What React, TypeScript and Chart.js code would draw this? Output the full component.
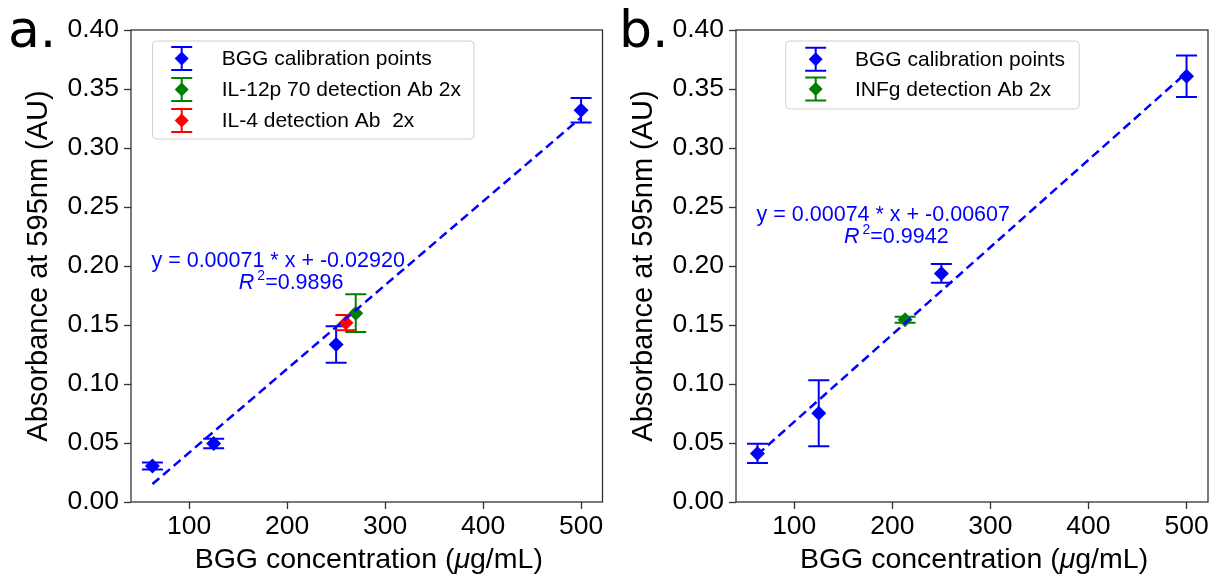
import React, { useEffect, useRef } from 'react';
import { Chart, registerables } from 'chart.js';

Chart.register(...registerables);

// ---------- shared axes ----------
const xTickValues = [100, 200, 300, 400, 500];
const yTickValues = [0, 0.05, 0.1, 0.15, 0.2, 0.25, 0.3, 0.35, 0.4];
const xAxisTitleParts = ['BGG concentration (', '\u03BC', 'g/mL)'];
const yAxisTitle = 'Absorbance at 595nm (AU)';

// ---------- panel a data ----------
const aCalX = [62.5, 125, 250, 500];
const aCalY = [0.0305, 0.0495, 0.1335, 0.332];
const aCalErr = [0.003, 0.004, 0.0155, 0.0104];
const aIl12X = [270];
const aIl12Y = [0.16];
const aIl12Err = [0.016];
const aIl4X = [260];
const aIl4Y = [0.152];
const aIl4Err = [0.0065];
const aFitX = [62.5, 500];
const aFitY = [0.0152, 0.3258];
const aLabels = ['BGG calibration points', 'IL-12p 70 detection Ab 2x', 'IL-4 detection Ab  2x'];
const aEquation = 'y = 0.00071 * x + -0.02920';
const aR2 = '=0.9896';

// ---------- panel b data ----------
const bCalX = [62.5, 125, 250, 500];
const bCalY = [0.0412, 0.0752, 0.1937, 0.3608];
const bCalErr = [0.0082, 0.028, 0.008, 0.0176];
const bInfX = [213];
const bInfY = [0.1545];
const bInfErr = [0.0025];
const bFitX = [62.5, 500];
const bFitY = [0.0402, 0.3639];
const bLabels = ['BGG calibration points', 'INFg detection Ab 2x'];
const bEquation = 'y = 0.00074 * x + -0.00607';
const bR2 = '=0.9942';

const BLUE = '#0000ff';
const GREEN = '#008000';
const RED = '#ff0000';
const FONT = '"Liberation Sans", Arial, sans-serif';

type PanelCfg = {
  letter: string;
  letterX: number;
  series: { label: string; xs: number[]; ys: number[]; errs: number[]; color: string; order: number }[];
  fitX: number[];
  fitY: number[];
  equation: string;
  r2: string;
  annoAt: { x: number; y: number };
  legend: { x: number; y: number; w: number; h: number; markerX: number; textX: number; rows: number[] };
  rightPad: number;
};

function drawErrMarker(ctx: CanvasRenderingContext2D, cx: number, top: number, bot: number, cy: number, color: string, cap: number, r: number) {
  ctx.save();
  ctx.strokeStyle = color;
  ctx.lineWidth = 2;
  ctx.beginPath();
  ctx.moveTo(cx, top);
  ctx.lineTo(cx, bot);
  ctx.moveTo(cx - cap, top);
  ctx.lineTo(cx + cap, top);
  ctx.moveTo(cx - cap, bot);
  ctx.lineTo(cx + cap, bot);
  ctx.stroke();
  if (r > 0) {
    ctx.fillStyle = color;
    ctx.beginPath();
    ctx.moveTo(cx - r, cy);
    ctx.lineTo(cx, cy - r);
    ctx.lineTo(cx + r, cy);
    ctx.lineTo(cx, cy + r);
    ctx.closePath();
    ctx.fill();
  }
  ctx.restore();
}

function Panel({ cfg, left, width }: { cfg: PanelCfg; left: number; width: number }) {
  const ref = useRef<HTMLCanvasElement | null>(null);
  useEffect(() => {
    if (!ref.current) return;
    const datasets: any[] = cfg.series.map((s) => ({
      label: s.label,
      data: s.xs.map((x, i) => ({ x, y: s.ys[i] })),
      errs: s.errs,
      backgroundColor: s.color,
      borderColor: s.color,
      borderWidth: 0,
      pointStyle: 'rectRot',
      pointRadius: 7.5,
      pointHoverRadius: 7.5,
      showLine: false,
      order: s.order,
    }));
    datasets.push({
      label: 'fit',
      data: cfg.fitX.map((x, i) => ({ x, y: cfg.fitY[i] })),
      borderColor: BLUE,
      borderWidth: 2.5,
      borderDash: [9, 5],
      pointRadius: 0,
      showLine: true,
      fill: false,
      order: 0,
    });

    const plugin = {
      id: 'extras',
      beforeDatasetDraw(chart: any, args: any) {
        const ds = chart.data.datasets[args.index];
        if (!ds.errs) return;
        const { ctx, scales } = chart;
        ds.data.forEach((p: any, i: number) => {
          const px = scales.x.getPixelForValue(p.x);
          const top = scales.y.getPixelForValue(p.y + ds.errs[i]);
          const bot = scales.y.getPixelForValue(p.y - ds.errs[i]);
          drawErrMarker(ctx, px, top, bot, 0, ds.borderColor, 10.5, 0);
        });
      },
      afterDraw(chart: any) {
        const { ctx, chartArea, scales } = chart;
        ctx.save();
        // frame
        ctx.strokeStyle = '#333';
        ctx.lineWidth = 1.3;
        ctx.strokeRect(chartArea.left, chartArea.top, chartArea.right - chartArea.left, chartArea.bottom - chartArea.top);

        // x axis title with italic mu
        {
          const fN = `28.5px ${FONT}`;
          const fI = `italic 28.5px ${FONT}`;
          ctx.font = fN;
          const w0 = ctx.measureText(xAxisTitleParts[0]).width;
          const w2 = ctx.measureText(xAxisTitleParts[2]).width;
          ctx.font = fI;
          const w1 = ctx.measureText(xAxisTitleParts[1]).width;
          const cx = (chartArea.left + chartArea.right) / 2 + 2;
          let sx = cx - (w0 + w1 + w2) / 2;
          const by = 568;
          ctx.fillStyle = '#000';
          ctx.textAlign = 'left';
          ctx.textBaseline = 'alphabetic';
          ctx.font = fN;
          ctx.fillText(xAxisTitleParts[0], sx, by);
          sx += w0;
          ctx.font = fI;
          ctx.fillText(xAxisTitleParts[1], sx, by);
          sx += w1;
          ctx.font = fN;
          ctx.fillText(xAxisTitleParts[2], sx, by);
        }

        // annotation
        const ax = scales.x.getPixelForValue(cfg.annoAt.x);
        const ay = scales.y.getPixelForValue(cfg.annoAt.y);
        ctx.fillStyle = BLUE;
        ctx.textBaseline = 'alphabetic';
        ctx.textAlign = 'center';
        ctx.font = `21.5px ${FONT}`;
        ctx.fillText(cfg.equation, ax, ay);
        const fR = `italic 21.5px ${FONT}`;
        const fS = `14px ${FONT}`;
        const fN2 = `21.5px ${FONT}`;
        ctx.font = fR;
        const wR = ctx.measureText('R').width;
        ctx.font = fS;
        const wS = ctx.measureText('2').width;
        ctx.font = fN2;
        const wN = ctx.measureText(cfg.r2).width;
        const gap = 3;
        const total = wR + gap + wS + wN;
        let sx = ax + 13 - total / 2;
        const by = ay + 22.5;
        ctx.textAlign = 'left';
        ctx.font = fR;
        ctx.fillText('R', sx, by);
        sx += wR + gap;
        ctx.font = fS;
        ctx.fillText('2', sx, by - 9);
        sx += wS;
        ctx.font = fN2;
        ctx.fillText(cfg.r2, sx, by);

        // legend
        const L = cfg.legend;
        ctx.beginPath();
        const rr = 4;
        ctx.moveTo(L.x + rr, L.y);
        ctx.lineTo(L.x + L.w - rr, L.y);
        ctx.quadraticCurveTo(L.x + L.w, L.y, L.x + L.w, L.y + rr);
        ctx.lineTo(L.x + L.w, L.y + L.h - rr);
        ctx.quadraticCurveTo(L.x + L.w, L.y + L.h, L.x + L.w - rr, L.y + L.h);
        ctx.lineTo(L.x + rr, L.y + L.h);
        ctx.quadraticCurveTo(L.x, L.y + L.h, L.x, L.y + L.h - rr);
        ctx.lineTo(L.x, L.y + rr);
        ctx.quadraticCurveTo(L.x, L.y, L.x + rr, L.y);
        ctx.closePath();
        ctx.fillStyle = 'rgba(255,255,255,0.8)';
        ctx.fill();
        ctx.strokeStyle = '#d0d0d0';
        ctx.lineWidth = 1;
        ctx.stroke();
        cfg.series.forEach((s, i) => {
          const cy = L.rows[i];
          drawErrMarker(ctx, L.markerX, cy - 11.5, cy + 11.5, cy, s.color, 10.5, 7);
          ctx.fillStyle = '#000';
          ctx.font = `21px ${FONT}`;
          ctx.textAlign = 'left';
          ctx.textBaseline = 'middle';
          ctx.fillText(s.label, L.textX, cy + 1);
        });

        // panel letter
        ctx.fillStyle = '#000';
        ctx.font = '52px "DejaVu Sans", sans-serif';
        ctx.textAlign = 'left';
        ctx.textBaseline = 'alphabetic';
        ctx.fillText(cfg.letter, cfg.letterX, 47);
        ctx.restore();
      },
    };

    const chart = new Chart(ref.current, {
      type: 'scatter',
      data: { datasets },
      options: {
        animation: false,
        responsive: false,
        devicePixelRatio: 1,
        events: [],
        layout: { padding: { top: 30, right: cfg.rightPad, left: 0, bottom: 0 } },
        plugins: { legend: { display: false }, tooltip: { enabled: false } },
        scales: {
          x: {
            type: 'linear',
            min: 40.625,
            max: 521.875,
            afterBuildTicks: (s: any) => {
              s.ticks = xTickValues.map((v) => ({ value: v }));
            },
            afterFit: (s: any) => {
              s.height = 79;
            },
            ticks: {
              autoSkip: false,
              maxRotation: 0,
              padding: 2,
              color: '#000',
              font: { family: FONT, size: 26.5 },
              callback: (v: any) => String(v),
            },
            grid: { drawOnChartArea: false, drawTicks: true, tickLength: 7, tickColor: '#333', tickWidth: 1.3 },
            border: { display: false },
            title: { display: false },
          },
          y: {
            type: 'linear',
            min: 0,
            max: 0.4,
            afterBuildTicks: (s: any) => {
              s.ticks = yTickValues.map((v) => ({ value: v }));
            },
            afterFit: (s: any) => {
              s.width = 131;
            },
            ticks: {
              autoSkip: false,
              padding: 5,
              color: '#000',
              font: { family: FONT, size: 26.5 },
              callback: (v: any) => Number(v).toFixed(2),
            },
            grid: { drawOnChartArea: false, drawTicks: true, tickLength: 7, tickColor: '#333', tickWidth: 1.3 },
            border: { display: false },
            title: {
              display: true,
              text: yAxisTitle,
              color: '#000',
              font: { family: FONT, size: 29 },
              padding: { top: 22, bottom: 0 },
            },
          },
        },
      } as any,
      plugins: [plugin],
    });
    return () => chart.destroy();
  }, [cfg]);
  return (
    <canvas
      ref={ref}
      width={width}
      height={581}
      style={{ position: 'absolute', left, top: 0, width, height: 581, display: 'block' }}
    />
  );
}

const panelA: PanelCfg = {
  letter: 'a.',
  letterX: 8,
  series: [
    { label: aLabels[0], xs: aCalX, ys: aCalY, errs: aCalErr, color: BLUE, order: 3 },
    { label: aLabels[1], xs: aIl12X, ys: aIl12Y, errs: aIl12Err, color: GREEN, order: 1 },
    { label: aLabels[2], xs: aIl4X, ys: aIl4Y, errs: aIl4Err, color: RED, order: 2 },
  ],
  fitX: aFitX,
  fitY: aFitY,
  equation: aEquation,
  r2: aR2,
  annoAt: { x: 190.8, y: 0.1994 },
  legend: { x: 152.5, y: 41, w: 321.5, h: 98, markerX: 181.7, textX: 221.7, rows: [58.5, 89.5, 120.5] },
  rightPad: 7,
};

const panelB: PanelCfg = {
  letter: 'b.',
  letterX: 14,
  series: [
    { label: bLabels[0], xs: bCalX, ys: bCalY, errs: bCalErr, color: BLUE, order: 3 },
    { label: bLabels[1], xs: bInfX, ys: bInfY, errs: bInfErr, color: GREEN, order: 1 },
  ],
  fitX: bFitX,
  fitY: bFitY,
  equation: bEquation,
  r2: bR2,
  annoAt: { x: 190.8, y: 0.2383 },
  legend: { x: 180.7, y: 41, w: 293.5, h: 68, markerX: 210.7, textX: 250, rows: [59.3, 89] },
  rightPad: 11,
};

export default function App() {
  return (
    <div style={{ position: 'fixed', left: 0, top: 0, width: 1219, height: 581, background: '#fff', overflow: 'hidden' }}>
      <Panel cfg={panelA} left={0} width={610} />
      <Panel cfg={panelB} left={605} width={614} />
    </div>
  );
}
